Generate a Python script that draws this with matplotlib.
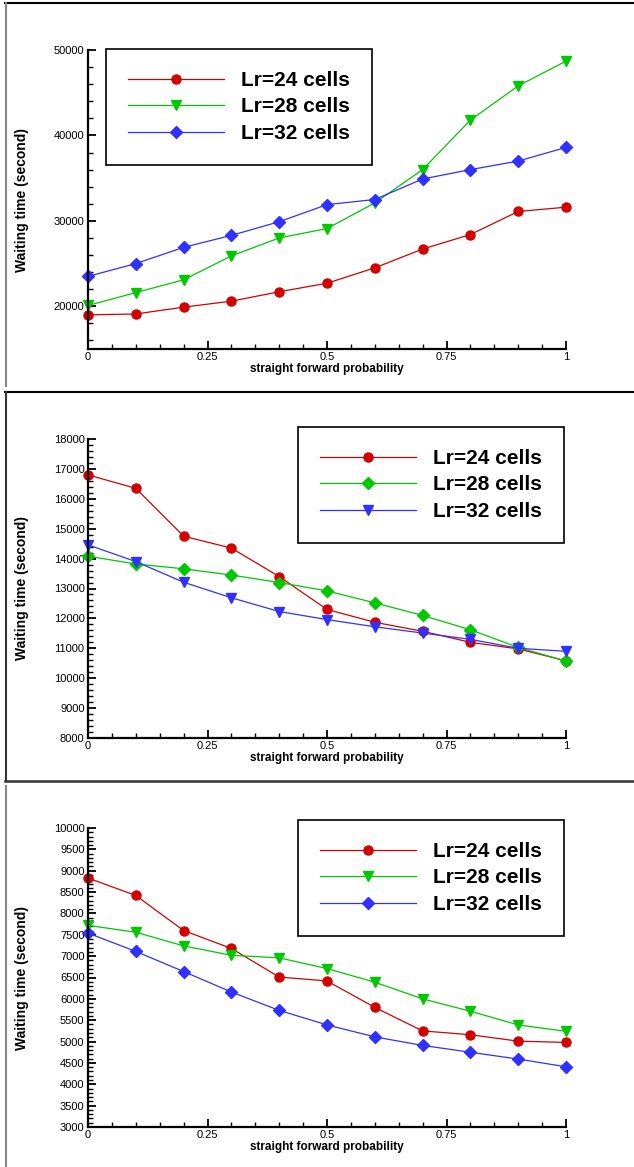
import matplotlib.pyplot as plt
from matplotlib.lines import Line2D
from matplotlib.ticker import MultipleLocator, FormatStrFormatter

plt.rcParams['font.family'] = ['Liberation Sans', 'DejaVu Sans']

x = [0, 0.1, 0.2, 0.3, 0.4, 0.5, 0.6, 0.7, 0.8, 0.9, 1.0]

# panel 1
p1_lr24 = [19000, 19100, 19900, 20600, 21700, 22700, 24500, 26700, 28400, 31100, 31600]
p1_lr28 = [20100, 21600, 23100, 25900, 28000, 29100, 32100, 36000, 41800, 45800, 48700]
p1_lr32 = [23500, 25000, 26900, 28300, 29900, 31900, 32500, 34900, 36000, 37000, 38600]

# panel 2
p2_lr24 = [16800, 16350, 14750, 14350, 13400, 12300, 11870, 11570, 11200, 10980, 10580]
p2_lr28 = [14080, 13820, 13660, 13450, 13200, 12920, 12520, 12100, 11620, 11030, 10570]
p2_lr32 = [14460, 13900, 13210, 12690, 12230, 11960, 11720, 11510, 11300, 11000, 10900]

# panel 3
p3_lr24 = [8830, 8420, 7600, 7180, 6510, 6420, 5800, 5250, 5160, 5010, 4980]
p3_lr28 = [7720, 7560, 7240, 7020, 6960, 6710, 6390, 6000, 5710, 5390, 5240]
p3_lr32 = [7540, 7110, 6640, 6160, 5730, 5390, 5110, 4910, 4750, 4590, 4410]

labels = ['Lr=24 cells', 'Lr=28 cells', 'Lr=32 cells']
RED, GREEN, BLUE = '#d40000', '#00c800', '#3030ff'

W, H = 634, 1167
fig = plt.figure(figsize=(W / 100, H / 100), dpi=100)


def frac_x(px):
    return px / W


def frac_y(py):
    return 1 - py / H


# panel borders
fig.add_artist(Line2D([frac_x(5), 1], [frac_y(3), frac_y(3)], color='black', lw=1.5))
fig.add_artist(Line2D([frac_x(5.5), frac_x(5.5)], [frac_y(3), frac_y(386)], color='#888888', lw=1.5))
fig.add_artist(Line2D([frac_x(5), 1], [frac_y(392), frac_y(392)], color='black', lw=1.5))
fig.add_artist(Line2D([frac_x(5.5), frac_x(5.5)], [frac_y(392), frac_y(781)], color='#333333', lw=1.5))
fig.add_artist(Line2D([frac_x(5), 1], [frac_y(781), frac_y(781)], color='#333333', lw=1.8))
fig.add_artist(Line2D([frac_x(5.5), frac_x(5.5)], [frac_y(786), 0], color='#888888', lw=1.5))

panels = [
    dict(top=50, series=[(p1_lr24, RED, 'o', 6.5), (p1_lr28, GREEN, 'v', 7), (p1_lr32, BLUE, 'D', 6.3)],
         ylim=(15000, 50000), major=10000, minor=2000, leg=(106, 49)),
    dict(top=439, series=[(p2_lr24, RED, 'o', 6.5), (p2_lr28, GREEN, 'D', 6.3), (p2_lr32, BLUE, 'v', 7)],
         ylim=(8000, 18000), major=1000, minor=200, leg=(298, 427)),
    dict(top=828, series=[(p3_lr24, RED, 'o', 6.5), (p3_lr28, GREEN, 'v', 7), (p3_lr32, BLUE, 'D', 6.3)],
         ylim=(3000, 10000), major=500, minor=100, leg=(298, 820)),
]

ax_l, ax_r, ax_h = 88, 566, 299

for p in panels:
    top = p['top']
    ax = fig.add_axes([frac_x(ax_l), frac_y(top + ax_h), (ax_r - ax_l) / W, ax_h / H])
    for (vals, c, m, ms), lab in zip(p['series'], labels):
        ax.plot(x, vals, color=c, lw=0.9, marker=m, ms=ms, mfc=c, mec=c, label=lab, clip_on=False)
    ax.set_xlim(0, 1)
    ax.set_ylim(*p['ylim'])
    ax.xaxis.set_major_locator(MultipleLocator(0.25))
    ax.xaxis.set_minor_locator(MultipleLocator(0.05))
    ax.xaxis.set_major_formatter(FormatStrFormatter('%g'))
    ax.yaxis.set_major_locator(MultipleLocator(p['major']))
    ax.yaxis.set_minor_locator(MultipleLocator(p['minor']))
    for s in ['top', 'right']:
        ax.spines[s].set_visible(False)
    for s in ['left', 'bottom']:
        ax.spines[s].set_linewidth(1.6)
    ax.tick_params(which='major', direction='in', length=5.5, width=1.3, labelsize=8, pad=2.5)
    ax.tick_params(which='minor', direction='in', length=3.5, width=1.0)
    ax.set_xlabel('straight forward probability', fontsize=8.5, fontweight='bold')
    ax.set_ylabel('Waiting time (second)', fontsize=10, fontweight='bold')
    ax.xaxis.set_label_coords(0.5, -0.047)
    ax.yaxis.set_label_coords(-0.124, 0.5)

    lx, ly = p['leg']
    bx = (lx - ax_l) / (ax_r - ax_l)
    by = (top + ax_h - ly) / ax_h
    leg = ax.legend(loc='upper left', bbox_to_anchor=(bx, by), borderaxespad=0,
                    prop={'size': 15, 'weight': 'bold'}, handlelength=4.6, handletextpad=0.85,
                    labelspacing=0.36, borderpad=1.05, fancybox=False, framealpha=1)
    leg.get_frame().set_edgecolor('black')
    leg.get_frame().set_linewidth(1.2)

fig.savefig('out.png', dpi=100)
